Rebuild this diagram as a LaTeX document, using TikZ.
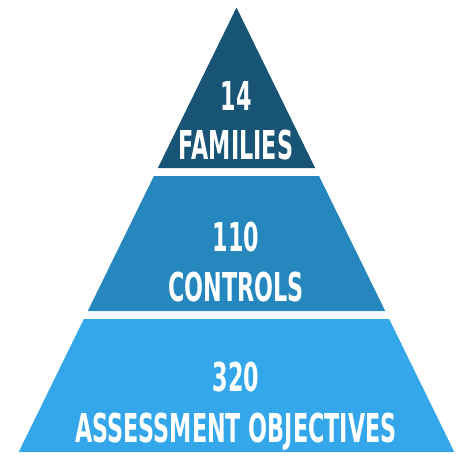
\documentclass[tikz,border=0pt]{standalone}
\usepackage{fontspec}
\usepackage{tikz}
\usetikzlibrary{positioning, calc}
\newfontfamily\tierfont[FakeStretch=0.56]{DejaVu Sans Bold}
\definecolor{tiertop}{HTML}{175475}
\definecolor{tiermid}{HTML}{2587BE}
\definecolor{tierlow}{HTML}{34A7EB}

\begin{document}
\begin{tikzpicture}[x=1pt, y=-1pt,
    tiertext/.style={text=white, font=\tierfont\fontsize{39.8}{40}\selectfont, inner sep=0pt, anchor=base}]
    \useasboundingbox (0,0) rectangle (470,472);
    % Outline of the pyramid
    \coordinate (apex) at (236.5,7.5);
    \coordinate (bl) at (18.7,452);
    \coordinate (br) at (454.3,452);
    % Top tier
    \fill[tiertop] (apex) -- ($(apex)!0.3611!(br)$) -- ($(apex)!0.3611!(bl)$) -- cycle;
    % Middle tier
    \fill[tiermid] ($(apex)!0.3791!(bl)$) -- ($(apex)!0.3791!(br)$)
        -- ($(apex)!0.6828!(br)$) -- ($(apex)!0.6828!(bl)$) -- cycle;
    % Bottom tier
    \fill[tierlow] ($(apex)!0.7008!(bl)$) -- ($(apex)!0.7008!(br)$) -- (br) -- (bl) -- cycle;

    % Labels
    \node[tiertext] (famnum) at (236,110) {14};
    \node[tiertext] (famtxt) at (236,159) {FAMILIES};
    \node[tiertext] (ctlnum) at (236,251) {110};
    \node[tiertext] (ctltxt) at (236,301) {CONTROLS};
    \node[tiertext] (objnum) at (236,391) {320};
    \node[tiertext] (objtxt) at (236,442) {ASSESSMENT OBJECTIVES};
\end{tikzpicture}
\end{document}
